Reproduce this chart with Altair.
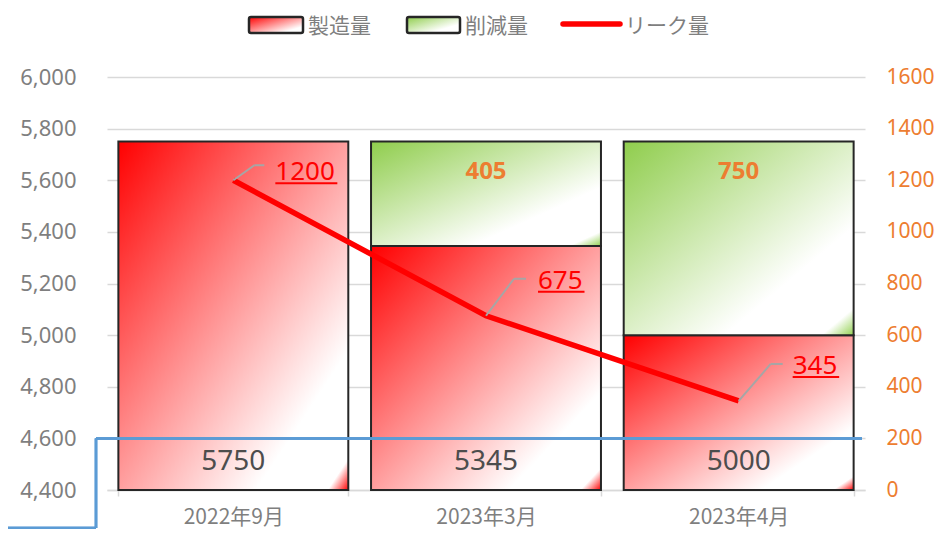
import altair as alt
import pandas as pd

# ---------------- data ----------------
categories = ["2022年9月", "2023年3月", "2023年4月"]
production = [5750, 5345, 5000]      # 製造量
reduction = [0, 405, 750]            # 削減量
leak = [1200, 675, 345]              # リーク量
series_names = ["製造量", "削減量", "リーク量"]
left_ticks = [4400, 4600, 4800, 5000, 5200, 5400, 5600, 5800, 6000]
right_ticks = [0, 200, 400, 600, 800, 1000, 1200, 1400, 1600]
guide_value = 200                    # blue guide line (right axis)

# ---------------- style / layout ----------------
W, H = 758, 413
CJK = "Noto Sans CJK JP"
NUM = "Noto Sans"
GRAY = "#7f7f7f"
ORANGE = "#ED7D31"
RED = "#ff0000"
BLUE = "#5b9bd5"
EDGE = "#262626"
# leak label placement (pixels): leader end dx, dy, horizontal end dx; text dx, dy
LEADER = [(21, -15, 31), (28, -37, 40), (32, -37, 44)]
TEXTPOS = [(42, -8), (52, -35), (54, -35)]
# legend placement (pixels, view coordinates): symbol x0, x1, label x
LEGEND_POS = [(142, 196, 201), (300, 353, 358), (456, 513, 518)]
LEGEND_Y = (-60, -44, -53, -50)   # rect top, rect bottom, line centre, label centre

RED_GRAD = ("{gradient:'linear',x1:0,y1:0,x2:1,y2:1,stops:["
            "{offset:0,color:'#ff0000'},{offset:0.8,color:'#ffffff'},{offset:0.955,color:'#ffffff'},"
            "{offset:1,color:'#ff0000'}]}")
GREEN_GRAD = ("{gradient:'linear',x1:0,y1:0,x2:1,y2:1,stops:["
              "{offset:0,color:'#8fcd4c'},{offset:0.72,color:'#ffffff'},{offset:0.93,color:'#ffffff'},"
              "{offset:1,color:'#92d050'}]}")

rows = []
for c, p, r in zip(categories, production, reduction):
    rows.append({"cat": c, "series": "製造量", "lo": left_ticks[0], "hi": p, "label": str(p)})
    if r > 0:
        rows.append({"cat": c, "series": "削減量", "lo": p, "hi": p + r, "label": str(r)})
bars_df = pd.DataFrame(rows)
line_df = pd.DataFrame({"cat": categories, "series": "リーク量", "leak": leak})
legend_df = pd.DataFrame({"series": series_names})

color_scale = alt.Scale(
    domain=series_names,
    range=[alt.ExprRef(expr=RED_GRAD), alt.ExprRef(expr=GREEN_GRAD), RED],
)
C = alt.Color("series:N", scale=color_scale, legend=None)

x_axis = alt.Axis(title=None, labelAngle=0, labelFont=CJK, labelFontSize=21, labelColor=GRAY,
                  labelPadding=10, tickSize=6, tickColor="#d9d9d9", tickWidth=1.5,
                  domainColor="#d9d9d9", domainWidth=1.5, tickBand="extent")
x_scale = alt.Scale(paddingInner=0.09, paddingOuter=0.045)
X = alt.X("cat:N", sort=categories, axis=x_axis, scale=x_scale)

left_scale = alt.Scale(domain=[left_ticks[0], left_ticks[-1]])
right_scale = alt.Scale(domain=[right_ticks[0], right_ticks[-1]])
left_axis = alt.Axis(title=None, values=left_ticks, format=",d", labelFont=NUM,
                     labelFontSize=22, labelColor=GRAY, ticks=False, domain=False,
                     labelPadding=31, gridColor="#d9d9d9", gridWidth=1.5)
right_axis = alt.Axis(title=None, orient="right", values=right_ticks, format="d",
                      labelFont=NUM, labelFontSize=21, labelColor=ORANGE, ticks=False,
                      domain=False, grid=False, labelPadding=21)


def YL(field):
    return alt.Y(field, type="quantitative", scale=left_scale, axis=left_axis)


Yr = alt.Y("leak:Q", scale=right_scale, axis=right_axis)
Yguide = alt.Y(datum=guide_value, type="quantitative", scale=right_scale, axis=right_axis)

# ---------------- left (bars) layer ----------------
bars = alt.Chart(bars_df).mark_bar(stroke=EDGE, strokeWidth=2).encode(
    x=X, y=YL("hi"), y2="lo:Q", color=C)
prod_text = alt.Chart(bars_df).transform_filter(alt.datum.series == "製造量").mark_text(
    font=NUM, fontSize=28, color="#4d4d4d", dy=-28, baseline="middle"
).encode(x=X, y=YL("lo"), text="label:N")
red_text = alt.Chart(bars_df).transform_filter(alt.datum.series == "削減量").mark_text(
    font=NUM, fontSize=24, fontWeight="bold", color=ORANGE, dy=30, baseline="middle"
).encode(x=X, y=YL("hi"), text="label:N")
left_layer = alt.layer(bars, prod_text, red_text)

# ---------------- right (leak) layer ----------------
line = alt.Chart(line_df).mark_line(strokeWidth=5.5).encode(x=X, y=Yr, color=C)

label_layers = []
for i, cat in enumerate(categories):
    lx, ly, hx = LEADER[i]
    tx, ty = TEXTPOS[i]
    uw = len(str(leak[i])) * 15.5
    base = alt.Chart(line_df).transform_filter(alt.datum.cat == cat)
    label_layers.append(base.mark_rule(color="#a6a6a6", strokeWidth=2, x2Offset=lx, y2Offset=ly)
                        .encode(x=X, x2="cat", y=Yr, y2="leak"))
    label_layers.append(base.mark_rule(color="#a6a6a6", strokeWidth=2, xOffset=lx, yOffset=ly,
                                       x2Offset=hx, y2Offset=ly)
                        .encode(x=X, x2="cat", y=Yr, y2="leak"))
    label_layers.append(base.mark_text(font=NUM, fontSize=26, color=RED, align="left",
                                       baseline="middle", dx=tx, dy=ty)
                        .encode(x=X, y=Yr, text="leak:Q"))
    label_layers.append(base.mark_rule(color=RED, strokeWidth=2, xOffset=tx, x2Offset=tx + uw,
                                       yOffset=ty + 11, y2Offset=ty + 11)
                        .encode(x=X, x2="cat", y=Yr, y2="leak"))

guide_h = alt.Chart(line_df).mark_rule(color=BLUE, strokeWidth=2.5).encode(
    x=alt.value(-11), x2=alt.value(W - 3), y=Yguide)
guide_v = alt.Chart(line_df).mark_rule(color=BLUE, strokeWidth=2.5).encode(
    x=alt.value(-11), y=Yguide, y2=alt.value(H + 38))
guide_b = alt.Chart(line_df).mark_rule(color=BLUE, strokeWidth=2.5).encode(
    x=alt.value(-130), x2=alt.value(-11), y=alt.value(H + 38))

# ---------------- legend (drawn as marks) ----------------
legend_layers = []
for i, name in enumerate(series_names):
    x0, x1, lx = LEGEND_POS[i]
    base = alt.Chart(legend_df).transform_filter(alt.datum.series == name)
    if name == "リーク量":
        legend_layers.append(base.mark_rule(strokeWidth=5.5, strokeCap="round").encode(
            x=alt.value(x0), x2=alt.value(x1), y=alt.value(LEGEND_Y[2]), color=C))
    else:
        legend_layers.append(base.mark_rect(stroke=EDGE, strokeWidth=2.5, cornerRadius=2).encode(
            x=alt.value(x0), x2=alt.value(x1), y=alt.value(LEGEND_Y[0]),
            y2=alt.value(LEGEND_Y[1]), color=C))
    legend_layers.append(base.mark_text(font=CJK, fontSize=21, color=GRAY, align="left",
                                        baseline="middle").encode(
        x=alt.value(lx), y=alt.value(LEGEND_Y[3]), text="series:N"))

right_layer = alt.layer(line, *label_layers, guide_h, guide_v, guide_b, *legend_layers)

chart = alt.layer(left_layer, right_layer).resolve_scale(y="independent").properties(
    width=W, height=H,
    padding={"left": 99, "top": 69, "right": 71, "bottom": 39},
    autosize=alt.AutoSizeParams(type="none"),
).configure_view(stroke=None)

chart.save("out.html", embed_options={"renderer": "svg", "actions": False})
